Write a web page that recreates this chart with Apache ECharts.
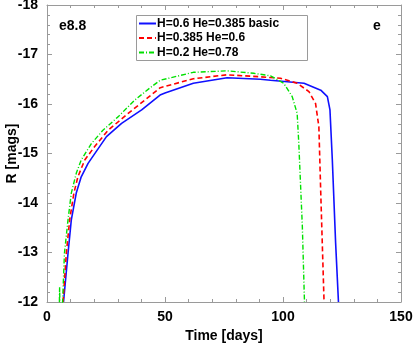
<!DOCTYPE html>
<html>
<head>
<meta charset="utf-8">
<script src="https://cdn.jsdelivr.net/npm/echarts@6/dist/echarts.min.js"></script>
<style>
  html, body { margin: 0; padding: 0; background: #fff; }
  #chart { width: 415px; height: 343px; }
</style>
</head>
<body>
<div id="chart"></div>
<script>
// series names
const seriesNames = ['H=0.6 He=0.385 basic', 'H=0.385 He=0.6', 'H=0.2 He=0.78']

// H=0.6 He=0.385 basic (blue)
const blueDays = [7.0, 8.9, 10.3, 12.4, 14.5, 17.4, 25.2, 31.6, 40.1, 47.9, 50, 62, 76.3, 90.4, 94.7, 108.9, 116, 118.8, 119.9, 120.9, 122.3, 123.5]
const blueMags = [-12.0, -12.98, -13.66, -14.2, -14.53, -14.8, -15.34, -15.61, -15.88, -16.18, -16.22, -16.42, -16.53, -16.5, -16.48, -16.42, -16.28, -16.15, -15.88, -14.87, -13.19, -12.0]

// H=0.385 He=0.6 (red)
const redDays = [6.8, 8.2, 9.6, 11.4, 13.1, 16, 20.2, 25.9, 34.4, 41.5, 48, 62, 76.3, 90.4, 98.9, 106, 111, 113.8, 115.2, 116, 117.4]
const redMags = [-12.0, -12.99, -13.66, -14.2, -14.53, -14.87, -15.14, -15.47, -15.81, -16.08, -16.33, -16.51, -16.59, -16.55, -16.52, -16.42, -16.25, -16.01, -15.54, -14.2, -12.0]

// H=0.2 He=0.78 (green)
const greenDays = [5.2, 5.35, 5.5, 6.4, 6.6, 7.4, 8.9, 10.3, 12.4, 14.5, 18.8, 23.7, 30.1, 37.2, 44.3, 48, 62, 76.3, 87.6, 94.7, 100.3, 103.9, 106, 106.7, 108.2, 109.1]
const greenMags = [-11.8, -12.3, -11.8, -11.8, -12.0, -12.99, -13.66, -14.2, -14.6, -14.87, -15.2, -15.47, -15.74, -16.08, -16.35, -16.48, -16.64, -16.67, -16.62, -16.57, -16.42, -16.15, -15.81, -15.2, -13.52, -12.0]

const zip = (xs, ys) => xs.map((x, i) => [x, ys[i]])

const chart = echarts.init(document.getElementById('chart'))

const font = 'Liberation Sans, Arial, sans-serif'
const frameColor = '#9a9a9a'

const tickAxis = {
  axisLine: { show: true, onZero: false, lineStyle: { color: frameColor, width: 1 } },
  axisTick: { show: true, inside: true, length: 5, lineStyle: { color: frameColor } },
  minorTick: { show: true, splitNumber: 5, length: 3, lineStyle: { color: frameColor } },
  splitLine: { show: false }
}

const option = {
  animation: false,
  backgroundColor: '#fff',
  grid: { left: 47, right: 14, top: 5, bottom: 41, containLabel: false, outerBoundsMode: 'none' },
  legend: {
    orient: 'vertical',
    left: 135,
    top: 15,
    z: 10,
    itemWidth: 17,
    itemHeight: 10,
    itemGap: 1.5,
    padding: [2, 6, 2, 3],
    itemStyle: { opacity: 0 },
    textStyle: { fontFamily: font, fontWeight: 'bold', fontSize: 12, lineHeight: 13, color: '#000', padding: [0, 0, 0, -4] }
  },
  xAxis: [
    Object.assign({
      type: 'value', min: 0, max: 150, interval: 50,
      name: 'Time [days]', nameLocation: 'middle', nameGap: 24,
      nameTextStyle: { fontFamily: font, fontWeight: 'bold', fontSize: 14, color: '#000' },
      axisLabel: { fontFamily: font, fontWeight: 'bold', fontSize: 14, color: '#000', margin: 8 }
    }, tickAxis),
    Object.assign({
      type: 'value', min: 0, max: 150, interval: 50, position: 'top',
      axisLabel: { show: false }
    }, tickAxis)
  ],
  yAxis: [
    Object.assign({
      type: 'value', min: -18, max: -12, interval: 1, inverse: true,
      name: 'R [mags]', nameLocation: 'middle', nameGap: 28, nameRotate: 90, nameMoveOverlap: false,
      nameTextStyle: { fontFamily: font, fontWeight: 'bold', fontSize: 14, color: '#000' },
      axisLabel: { fontFamily: font, fontWeight: 'bold', fontSize: 14, color: '#000', margin: 9 }
    }, tickAxis),
    Object.assign({
      type: 'value', min: -18, max: -12, interval: 1, inverse: true, position: 'right',
      axisLabel: { show: false }
    }, tickAxis)
  ],
  graphic: [
    {
      type: 'rect', z: 5,
      shape: { x: 136.5, y: 15.5, width: 171, height: 45 },
      style: { fill: '#fff', stroke: frameColor, lineWidth: 1 }
    },
    { type: 'text', left: 59, top: 19, style: { text: 'e8.8', font: 'bold 14px ' + font, fill: '#000' } },
    { type: 'text', left: 373, top: 19, style: { text: 'e', font: 'bold 14px ' + font, fill: '#000' } }
  ],
  series: [
    {
      name: seriesNames[0], type: 'line', symbol: 'none', clip: true,
      data: zip(blueDays, blueMags),
      lineStyle: { color: '#1010ff', width: 1.6, type: 'solid' },
      itemStyle: { color: '#1010ff' }
    },
    {
      name: seriesNames[1], type: 'line', symbol: 'none', clip: true,
      data: zip(redDays, redMags),
      lineStyle: { color: '#ff0000', width: 1.6, type: [5, 3] },
      itemStyle: { color: '#ff0000' }
    },
    {
      name: seriesNames[2], type: 'line', symbol: 'none', clip: true,
      data: zip(greenDays, greenMags),
      lineStyle: { color: '#00e000', width: 1.4, type: [5, 2, 1, 2] },
      itemStyle: { color: '#00e000' }
    }
  ]
}

chart.setOption(option)
</script>
</body>
</html>
